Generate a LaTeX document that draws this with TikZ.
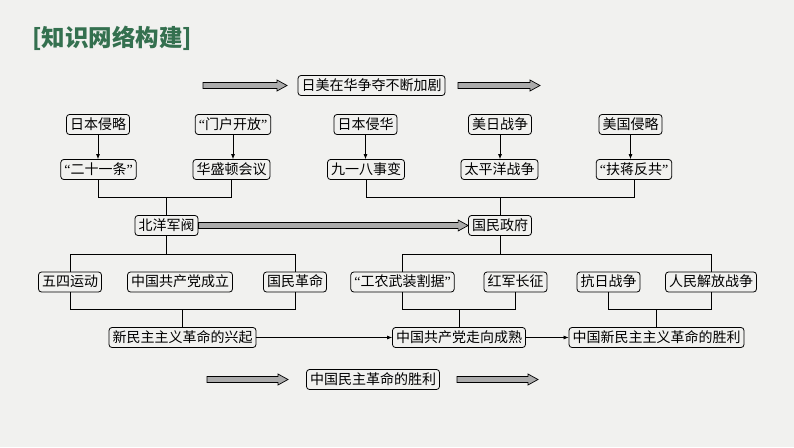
\documentclass[tikz,border=0pt]{standalone}
\usepackage{fontspec}
\setmainfont{Noto Sans CJK SC}
\newfontfamily\latq{Liberation Serif}
\usetikzlibrary{calc,arrows.meta}
\definecolor{bgpaper}{HTML}{F1F1EF}
\definecolor{titlegreen}{HTML}{34704F}
\definecolor{fatgray}{HTML}{ABABAB}
\newcommand\myql{{\latq “}}
\newcommand\myqr{{\latq ”}}
\newcommand\fatarrow[2]{%
  \draw[fatarr] let \p1=(#1), \p2=(#2) in
    (\x1,\y1+3) -- (\x2-10,\y1+3) -- (\x2-10,\y1+5.5) -- (\x2,\y1) --
    (\x2-10,\y1-5.5) -- (\x2-10,\y1-3) -- (\x1,\y1-3) -- cycle;}
\begin{document}
\begin{tikzpicture}[x=1pt,y=-1pt,
  box/.style={draw=black, line width=0.8pt, rounded corners=3pt,
    font=\fontsize{14}{15}\selectfont, inner xsep=3.5pt, inner ysep=0pt,
    minimum height=20pt, text height=11.5pt, text depth=2.5pt},
  ln/.style={draw=black, line width=0.7pt},
  arr/.style={ln, -{Latex[length=5pt,width=4pt]}},
  fatarr/.style={draw=black, line width=0.7pt, fill=fatgray, line join=miter}]
\fill[bgpaper] (0,0) rectangle (794,447);
\useasboundingbox (0,0) rectangle (794,447);

% title
\node[text=titlegreen, font=\fontsize{23.5}{25}\selectfont\bfseries, anchor=west, inner sep=0pt]
  (title) at (32,38) {[知识网络构建]};

% top
\node[box] (top) at (371.5,85.5) {日美在华争夺不断加剧};
\coordinate (ta1) at (203,85.5); \coordinate (ta2) at (287,85.5);
\coordinate (tb1) at (458,85.5); \coordinate (tb2) at (540,85.5);
\fatarrow{ta1}{ta2}
\fatarrow{tb1}{tb2}

% row 1
\node[box] (r1a) at (98,124.5) {日本侵略};
\node[box] (r1b) at (233,124.5) {\myql 门户开放\myqr};
\node[box] (r1c) at (365.5,124.5) {日本侵华};
\node[box] (r1d) at (500,124.5) {美日战争};
\node[box] (r1e) at (630.5,124.5) {美国侵略};

% row 2
\node[box] (r2a) at (98.5,169.5) {\myql 二十一条\myqr};
\node[box] (r2b) at (231.5,169.5) {华盛顿会议};
\node[box] (r2c) at (366,169.5) {九一八事变};
\node[box] (r2d) at (499.5,169.5) {太平洋战争};
\node[box] (r2e) at (634,169.5) {\myql 扶蒋反共\myqr};

\foreach \n in {a,b,c,d,e}{\draw[arr] (r1\n.south) -- (r1\n.south |- r2\n.north);}

% row 3 (powers)
\node[box] (bei) at (166.5,225.5) {北洋军阀};
\node[box] (guo) at (500,225.5) {国民政府};
\fatarrow{bei.east}{guo.west}

\draw[ln] (r2a.south) -- (r2a.south |- 0,197) -- (r2b.south |- 0,197) -- (r2b.south);
\draw[ln] (bei.north |- 0,197) -- (bei.north);
\draw[ln] (r2c.south) -- (r2c.south |- 0,197) -- (r2e.south |- 0,197) -- (r2e.south);
\draw[ln] (guo.north |- 0,197) -- (guo.north);

% row 4
\node[box] (e1) at (70,282) {五四运动};
\node[box] (e2) at (180,282) {中国共产党成立};
\node[box] (e3) at (295,282) {国民革命};
\node[box] (e4) at (402.5,282) {\myql 工农武装割据\myqr};
\node[box] (e5) at (515.5,282) {红军长征};
\node[box] (e6) at (608.5,282) {抗日战争};
\node[box] (e7) at (711,282) {人民解放战争};

\draw[ln] (bei.south) -- (bei.south |- 0,254);
\draw[ln] (e1.north) -- (e1.north |- 0,254) -- (e3.north |- 0,254) -- (e3.north);
\draw[ln] (guo.south) -- (guo.south |- 0,254);
\draw[ln] (e4.north) -- (e4.north |- 0,254) -- (e7.north |- 0,254) -- (e7.north);

% row 5
\node[box] (s1) at (182.5,337.5) {新民主主义革命的兴起};
\node[box] (s2) at (459,337.5) {中国共产党走向成熟};
\node[box] (s3) at (656.5,337.5) {中国新民主主义革命的胜利};

\draw[ln] (e1.south) -- (e1.south |- 0,309) -- (e3.south |- 0,309) -- (e3.south);
\draw[ln] (s1.north |- 0,309) -- (s1.north);
\draw[ln] (e4.south) -- (e4.south |- 0,309) -- (e5.south |- 0,309) -- (e5.south);
\draw[ln] (s2.north |- 0,309) -- (s2.north);
\draw[ln] (e6.south) -- (e6.south |- 0,309) -- (e7.south |- 0,309) -- (e7.south);
\draw[ln] (s3.north |- 0,309) -- (s3.north);

\draw[arr] (s1.east) -- (s2.west);
\draw[arr] (s2.east) -- (s3.west);

% bottom
\node[box] (bot) at (373,379.5) {中国民主革命的胜利};
\coordinate (ba1) at (207,379.5); \coordinate (ba2) at (288,379.5);
\coordinate (bb1) at (457,379.5); \coordinate (bb2) at (538,379.5);
\fatarrow{ba1}{ba2}
\fatarrow{bb1}{bb2}
\end{tikzpicture}
\end{document}
